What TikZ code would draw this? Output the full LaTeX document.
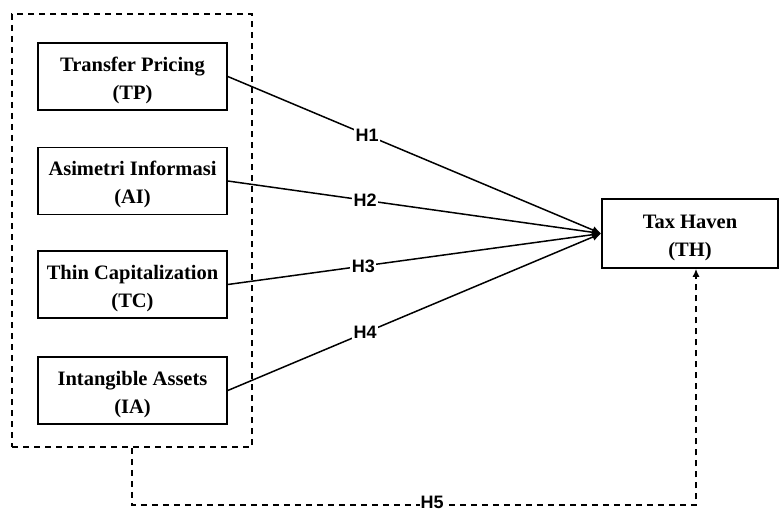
\documentclass[tikz,border=0pt]{standalone}
\usepackage{fontspec}
\setmainfont{Liberation Serif}
\newfontfamily\labfont{Liberation Sans}
\usetikzlibrary{arrows.meta}
\newcommand\boxtxt[2]{\begin{tabular}{@{}c@{}}\rule{0pt}{26pt}#1\\#2\end{tabular}}
\begin{document}
\begin{tikzpicture}[x=1pt,y=-1pt,
  varbox/.style={draw, line width=1.6pt, minimum width=189pt, minimum height=67pt, inner sep=0pt,
    align=center, font=\fontsize{20.5}{28}\selectfont\bfseries},
  grpbox/.style={draw, line width=1.5pt, dash pattern=on 6pt off 5pt, minimum width=240pt, minimum height=433pt, inner sep=0pt},
  hlab/.style={fill=white, inner sep=1.5pt, font=\labfont\fontsize{18}{18}\selectfont\bfseries},
  arr/.style={line width=1.5pt, -{Latex[length=9pt,width=8pt]}},
  darr/.style={line width=1.5pt, dash pattern=on 6pt off 5pt, -{Latex[length=8pt,width=7pt]}}]
\useasboundingbox (0,0) rectangle (780,511);
\node[grpbox] (grp) at (132,230.5) {};
\node[varbox] (tp) at (132.5,76.5) {\boxtxt{Transfer Pricing}{(TP)}};
\node[varbox] (ai) at (132.5,181) {\boxtxt{Asimetri Informasi}{(AI)}};
\node[varbox] (tc) at (132.5,284.5) {\boxtxt{Thin Capitalization}{(TC)}};
\node[varbox] (ia) at (132.5,390.5) {\boxtxt{Intangible Assets}{(IA)}};
\node[varbox, minimum width=176pt, minimum height=69pt] (th) at (690,233.5) {\boxtxt{Tax Haven}{(TH)}};
\draw[arr] (tp.east) -- node[hlab, pos=0.373] {H1} (th.west);
\draw[arr] (ai.east) -- node[hlab, pos=0.368] {H2} (th.west);
\draw[arr] (tc.east) -- node[hlab, pos=0.363] {H3} (th.west);
\draw[arr] (ia.east) -- node[hlab, pos=0.368] {H4} (th.west);
\coordinate (c1) at (132,505);
\coordinate (c2) at (696,505);
\draw[darr] (grp.south) -- (c1) -- node[hlab, pos=0.532, yshift=3pt, inner sep=1pt] {H5} (c2) -- ([xshift=6pt]th.south);
\end{tikzpicture}
\end{document}
